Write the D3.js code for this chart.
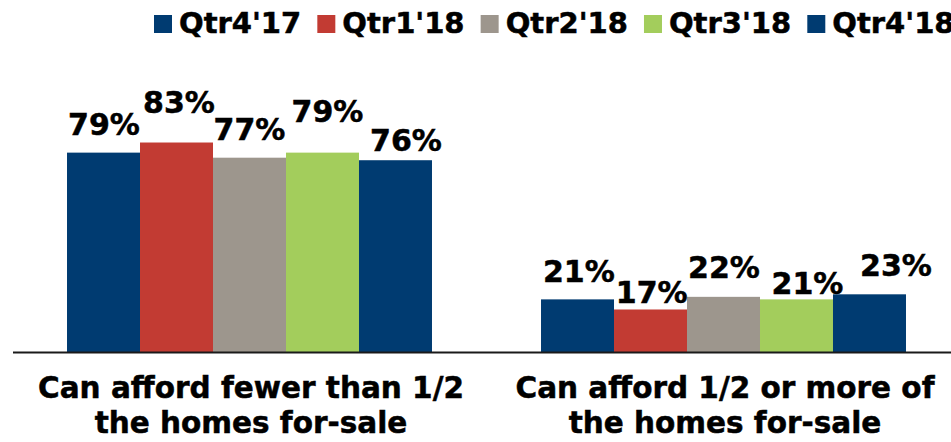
<!DOCTYPE html>
<html>
<head>
<meta charset="utf-8">
<script src="https://cdn.jsdelivr.net/npm/d3@7/dist/d3.min.js"></script>
<style>
  html, body { margin: 0; padding: 0; background: #fff; }
  svg { display: block; }
  text { font-family: "DejaVu Sans", Verdana, sans-serif; font-weight: bold; fill: #000; stroke: #000; stroke-width: 0.5px; }
</style>
</head>
<body>
<svg id="chart" width="951" height="442"></svg>
<script>
// ---- Data ----
const categories = [
  ["Can afford fewer than 1/2", "the homes for-sale"],
  ["Can afford 1/2 or more of", "the homes for-sale"]
];
const seriesNames = ["Qtr4'17", "Qtr1'18", "Qtr2'18", "Qtr3'18", "Qtr4'18"];
const fewerThanHalf = [79, 83, 77, 79, 76];
const halfOrMore    = [21, 17, 22, 21, 23];
const seriesColors  = ["#003b71", "#c23b33", "#9d968d", "#a3cd5c", "#003b71"];

// ---- Layout (label nudges as in the original, px) ----
const labelDx = [[0.5, 2.5, 0, 5, 10.5], [1.3, 1.2, 0.5, 11, 26.5]];
const labelDy = [[-17.6, -29.5, -17.7, -31, -9.5], [-17.7, -6.8, -18.5, -5.1, -18.3]];

const values = [fewerThanHalf, halfOrMore];
const svg = d3.select("#chart");

const x0 = d3.scaleBand().domain(d3.range(categories.length))
  .range([12.5, 960.5]).paddingInner(0.23).paddingOuter(0.115);
const x1 = d3.scaleBand().domain(d3.range(seriesNames.length))
  .range([0, x0.bandwidth()]).padding(0);
const y = d3.scaleLinear().domain([0, 100]).range([352.5, 99.5]);

// Bars
const groups = svg.selectAll("g.grp").data(values).join("g")
  .attr("class", "grp")
  .attr("transform", (d, i) => `translate(${x0(i)},0)`);

groups.selectAll("rect").data(d => d).join("rect")
  .attr("x", (d, j) => x1(j))
  .attr("width", x1.bandwidth())
  .attr("y", d => y(d))
  .attr("height", d => y(0) - y(d))
  .attr("fill", (d, j) => seriesColors[j]);

groups.each(function(vals, i) {
  d3.select(this).selectAll("text.val").data(vals).join("text")
    .attr("class", "val")
    .attr("x", (d, j) => x1(j) + x1.bandwidth() / 2 + labelDx[i][j])
    .attr("y", (d, j) => y(d) + labelDy[i][j])
    .attr("text-anchor", "middle")
    .style("font-size", "30px")
    .text(d => d + "%");
});

// Axis baseline
const xAxis = d3.axisBottom(x0).tickSize(0).tickFormat("");
const axisG = svg.append("g").attr("transform", `translate(0,${y(0)})`).call(xAxis);
axisG.select(".domain").remove();
axisG.append("line")
  .attr("x1", 13).attr("x2", 951).attr("y1", 0).attr("y2", 0)
  .attr("stroke", "#1a1a1a").attr("stroke-width", 2);

// Category labels
categories.forEach((lines, i) => {
  const cx = x0(i) + x0.bandwidth() / 2 + 1.5;
  const t = svg.append("text")
    .attr("text-anchor", "middle")
    .attr("x", cx)
    .attr("y", 398)
    .style("font-size", "29.5px");
  lines.forEach((ln, k) => {
    t.append("tspan")
      .attr("x", cx)
      .attr("dy", k === 0 ? 0 : 35)
      .text(ln);
  });
});

// Legend
const legend = svg.append("g");
const legX = d3.scalePoint().domain(d3.range(seriesNames.length)).range([154, 807.3]);
seriesNames.forEach((name, j) => {
  legend.append("rect")
    .attr("x", legX(j)).attr("y", 15)
    .attr("width", 18).attr("height", 18)
    .attr("fill", seriesColors[j]);
  legend.append("text")
    .attr("x", legX(j) + 25).attr("y", 33)
    .style("font-size", "29px")
    .text(name);
});
</script>
</body>
</html>
